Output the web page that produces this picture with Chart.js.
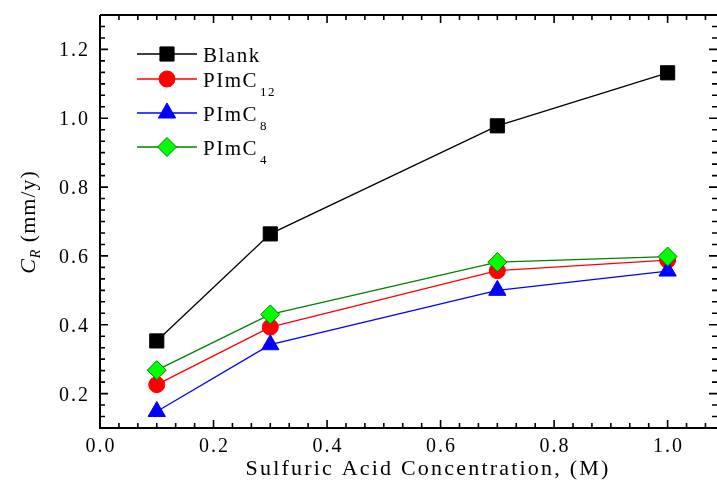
<!DOCTYPE html>
<html>
<head>
<meta charset="utf-8">
<script src="https://cdn.jsdelivr.net/npm/chart.js@4/dist/chart.umd.min.js"></script>
<style>
html,body{margin:0;padding:0;background:#fff;}
#wrap{width:717px;height:489px;position:relative;}
</style>
</head>
<body>
<div id="wrap"><canvas id="c" width="717" height="489"></canvas></div>
<script>
// ---- data ----
const concentrations = [0.1, 0.3, 0.7, 1.0];
const blank  = [0.353, 0.664, 0.978, 1.132];
const pimc12 = [0.226, 0.393, 0.557, 0.588];
const pimc8  = [0.148, 0.342, 0.500, 0.556];
const pimc4  = [0.268, 0.430, 0.582, 0.598];
const xTickLabels = ['0.0','0.2','0.4','0.6','0.8','1.0'];
const yTickLabels = ['0.2','0.4','0.6','0.8','1.0','1.2'];
const seriesNames = [['Blank',''],['PImC','12'],['PImC','8'],['PImC','4']];

const SERIF = '"Liberation Serif","Times New Roman",serif';

function pts(arr){ return concentrations.map((x,i)=>({x:x,y:arr[i]})); }

const styles = [
  {line:'#000000', fill:'#000000', border:'#000000', style:'rect', r:10, bw:1},
  {line:'#ff0000', fill:'#ff0000', border:'#ff0000', style:'circle', r:8, bw:1},
  {line:'#0000ff', fill:'#0000ff', border:'#0000ff', style:'triangle', r:10, bw:1},
  {line:'#008000', fill:'#00ff00', border:'#008000', style:'rectRot', r:9.5, bw:1}
];
const seriesData = [blank, pimc12, pimc8, pimc4];
const orders = [0, 3, 2, 1];

const datasets = seriesData.map((d,i)=>({
  label: seriesNames[i].join(''),
  data: pts(d),
  borderColor: styles[i].line,
  borderWidth: 1.3,
  pointStyle: styles[i].style,
  pointRadius: styles[i].r,
  pointBackgroundColor: styles[i].fill,
  pointBorderColor: styles[i].border,
  pointBorderWidth: styles[i].bw,
  fill: false,
  tension: 0,
  clip: false,
  order: orders[i]
}));

const axesPlugin = {
  id: 'axesPlugin',
  afterDraw(chart){
    const ctx = chart.ctx;
    const xs = chart.scales.x, ys = chart.scales.y;
    const L = chart.chartArea.left, R = chart.chartArea.right, T = chart.chartArea.top, B = chart.chartArea.bottom;
    ctx.save();
    ctx.strokeStyle = '#000';
    ctx.fillStyle = '#000';
    // spines
    ctx.lineWidth = 2;
    ctx.beginPath();
    ctx.moveTo(L, T); ctx.lineTo(L, B); ctx.lineTo(R, B);
    ctx.moveTo(L, T); ctx.lineTo(R, T);
    ctx.stroke();
    ctx.lineWidth = 1.6;
    // x ticks
    const xStep = 0.2/6;
    for (let k = 0; k*xStep <= xs.max + 1e-9; k++){
      const v = k*xStep;
      const px = xs.getPixelForValue(v);
      const major = (k % 6 === 0);
      const len = major ? 8 : 5;
      ctx.beginPath();
      ctx.moveTo(px, B); ctx.lineTo(px, B - len);
      ctx.moveTo(px, T); ctx.lineTo(px, T + len);
      ctx.stroke();
    }
    // y ticks
    for (let k = 0; 0.1 + k*xStep <= ys.max + 1e-9; k++){
      const v = 0.1 + k*xStep;
      const py = ys.getPixelForValue(v);
      const major = (k % 6 === 3);
      const len = major ? 8 : 5;
      ctx.beginPath();
      ctx.moveTo(L, py); ctx.lineTo(L + len, py);
      ctx.moveTo(R, py); ctx.lineTo(R - len, py);
      ctx.stroke();
    }
    // tick labels
    ctx.font = '20px ' + SERIF;
    ctx.letterSpacing = '2px';
    ctx.textAlign = 'center';
    ctx.textBaseline = 'alphabetic';
    xTickLabels.forEach(t=>{
      const px = xs.getPixelForValue(parseFloat(t));
      ctx.fillText(t, px + 1, 452);
    });
    ctx.textAlign = 'right';
    yTickLabels.forEach(t=>{
      const py = ys.getPixelForValue(parseFloat(t));
      ctx.fillText(t, 90, py + 7);
    });
    // x title
    ctx.font = '22px ' + SERIF;
    ctx.letterSpacing = '2.2px';
    ctx.textAlign = 'center';
    ctx.fillText('Sulfuric Acid Concentration, (M)', 428, 475);
    // y title (rotated)
    ctx.save();
    ctx.translate(35, 222);
    ctx.rotate(-Math.PI/2);
    ctx.textAlign = 'left';
    ctx.letterSpacing = '1px';
    const partC = 'C', partR = 'R', partRest = ' (mm/y)';
    ctx.font = 'italic 22px ' + SERIF;
    const wC = ctx.measureText(partC).width;
    ctx.font = 'italic 14px ' + SERIF;
    const wR = ctx.measureText(partR).width;
    ctx.font = '22px ' + SERIF;
    const wRest = ctx.measureText(partRest).width;
    let x0 = -(wC + wR + wRest)/2;
    ctx.font = 'italic 22px ' + SERIF;
    ctx.fillText(partC, x0, 0);
    x0 += wC;
    ctx.font = 'italic 14px ' + SERIF;
    ctx.fillText(partR, x0, 5);
    x0 += wR;
    ctx.font = '22px ' + SERIF;
    ctx.fillText(partRest, x0, 0);
    ctx.restore();
    // legend
    const rowsY = [54, 79, 113, 147];
    styles.forEach((s,i)=>{
      const y = rowsY[i];
      ctx.strokeStyle = s.line;
      ctx.lineWidth = 1.3;
      ctx.beginPath();
      ctx.moveTo(137, y); ctx.lineTo(197, y);
      ctx.stroke();
      ctx.fillStyle = s.fill;
      ctx.strokeStyle = s.border;
      ctx.lineWidth = s.bw;
      Chart.helpers.drawPoint(ctx, {pointStyle: s.style, radius: s.r, rotation: 0, borderWidth: s.bw}, 167, y);
      ctx.fillStyle = '#000';
      ctx.textAlign = 'left';
      ctx.letterSpacing = '1.5px';
      ctx.font = '21px ' + SERIF;
      const [main, sub] = seriesNames[i];
      ctx.fillText(main, 203, y + 8);
      if (sub){
        const w = ctx.measureText(main).width;
        ctx.font = '13px ' + SERIF;
        ctx.fillText(sub, 203 + w + 2, y + 17);
      }
    });
    ctx.restore();
  }
};

new Chart(document.getElementById('c'), {
  type: 'line',
  data: { datasets },
  options: {
    responsive: false,
    animation: false,
    layout: { autoPadding: false, padding: { left: 100, top: 15, right: 0, bottom: 61 } },
    plugins: { legend: { display: false }, tooltip: { enabled: false } },
    scales: {
      x: { type: 'linear', min: 0, max: 1.087, display: false },
      y: { type: 'linear', min: 0.1, max: 1.3, display: false }
    }
  },
  plugins: [axesPlugin]
});
</script>
</body>
</html>
